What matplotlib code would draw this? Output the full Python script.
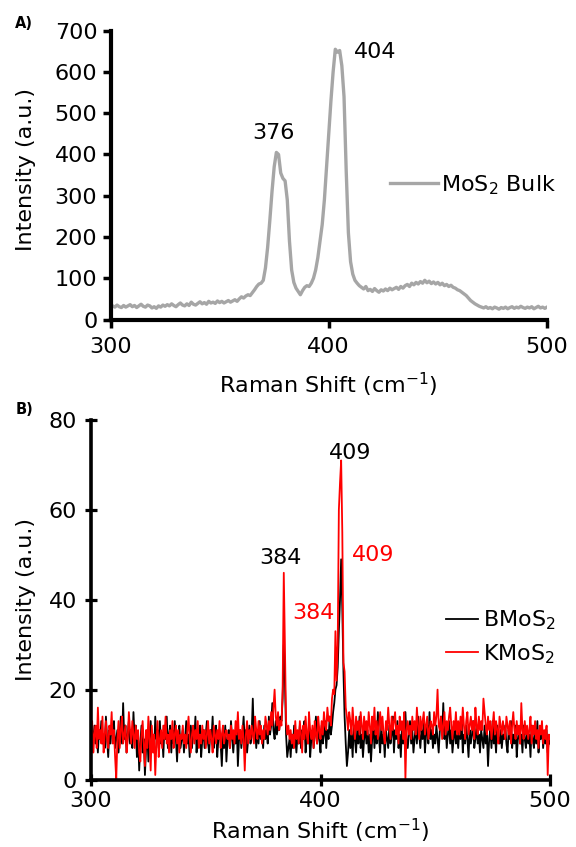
import numpy as np
import matplotlib
matplotlib.use("Agg")
import matplotlib.pyplot as plt

plt.rcParams['font.family'] = ['DejaVu Sans']
plt.rcParams['mathtext.default'] = 'regular'

# ---------------- Panel A data (MoS2 bulk), 1 cm-1 steps 300..500 ----------------
shift_a = np.arange(300, 501, 1)
bulk_intensity = (
    [28, 33, 30, 35, 31, 29, 34, 30, 33, 36] +          # 300-309
    [31, 34, 29, 33, 37, 32, 30, 35, 33, 28] +          # 310-319
    [31, 27, 33, 30, 35, 32, 36, 33, 38, 34] +          # 320-329
    [31, 36, 40, 35, 33, 38, 34, 42, 37, 35] +          # 330-339
    [39, 43, 38, 41, 37, 44, 40, 42, 39, 45] +          # 340-349
    [41, 44, 40, 43, 46, 42, 45, 48, 44, 50] +          # 350-359
    [55, 52, 57, 60, 58, 65, 72, 80, 86, 88] +          # 360-369
    [95, 125, 175, 240, 310, 370, 405, 400, 355, 342] +  # 370-379
    [336, 290, 190, 120, 90, 76, 68, 60, 70, 78] +      # 380-389
    [82, 80, 88, 100, 120, 150, 190, 230, 290, 370] +   # 390-399
    [450, 530, 600, 655, 648, 652, 615, 540, 360, 210] +  # 400-409
    [140, 110, 95, 88, 82, 78, 74, 80, 70, 73] +        # 410-419
    [68, 75, 70, 66, 72, 69, 74, 70, 76, 72] +          # 420-429
    [75, 78, 73, 80, 76, 82, 85, 80, 88, 84] +          # 430-439
    [90, 86, 92, 88, 95, 89, 93, 87, 91, 86] +          # 440-449
    [90, 84, 88, 82, 85, 80, 83, 78, 76, 72] +          # 450-459
    [70, 66, 62, 58, 52, 46, 42, 38, 35, 32] +          # 460-469
    [30, 28, 31, 27, 29, 26, 30, 28, 25, 29] +          # 470-479
    [27, 30, 26, 29, 31, 27, 30, 28, 32, 29] +          # 480-489
    [27, 30, 28, 31, 26, 29, 32, 28, 30, 27] +          # 490-499
    [30]                                                # 500
)

# ---------------- Panel B data, 0.5 cm-1 steps 300..500 ----------------
shift_b = np.arange(300, 500.5, 0.5)
bmos2 = (
    [10, 7, 9, 12, 8, 10, 6, 11, 9, 13, 8, 10, 7, 14, 9, 5, 11, 8, 12, 10] +
    [13, 7, 9, 11, 6, 10, 14, 8, 17, 9, 12, 6, 10, 13, 8, 11, 7, 15, 9, 12] +
    [5, 10, 2, 8, 12, 6, 9, 1, 7, 11, 4, 9, 13, 8, 10, 6, 14, 9, 11, 7] +
    [13, 8, 10, 5, 12, 9, 14, 7, 10, 12, 6, 11, 8, 13, 9, 4, 10, 12, 7, 9] +
    [11, 6, 9, 13, 8, 10, 5, 12, 7, 11, 9, 14, 6, 10, 8, 12, 5, 9, 11, 7] +
    [10, 13, 8, 6, 11, 9, 14, 7, 10, 12, 5, 9, 11, 8, 3, 10, 7, 12, 4, 9] +
    [11, 7, 13, 9, 6, 10, 8, 12, 3, 9, 11, 7, 10, 14, 8, 11, 6, 9, 12, 8] +
    [10, 18, 9, 12, 7, 11, 8, 13, 9, 10, 7, 12, 9, 11, 8, 14, 10, 12, 17, 11] +
    [9, 13, 10, 12, 11, 14, 13, 18, 30, 22, 10, 5, 7, 9, 5, 10, 7, 12, 9, 6] +
    [10, 8, 12, 7, 11, 9, 13, 6, 10, 8, 12, 5, 9, 11, 7, 10, 14, 8, 11, 9] +
    [6, 12, 8, 10, 13, 7, 11, 9, 14, 10, 12, 15, 17, 20, 21, 25, 33, 40, 49, 38] +
    [24, 14, 8, 3, 6, 11, 7, 10, 5, 12, 9, 6, 11, 8, 14, 7, 10, 5, 9, 12] +
    [8, 11, 6, 10, 4, 9, 13, 7, 11, 8, 15, 9, 6, 12, 8, 10, 5, 11, 9, 7] +
    [12, 8, 10, 14, 6, 11, 9, 13, 7, 10, 5, 12, 8, 11, 15, 9, 7, 10, 13, 8] +
    [11, 6, 9, 12, 8, 14, 10, 7, 11, 9, 13, 6, 10, 12, 8, 15, 9, 11, 7, 10] +
    [8, 12, 9, 6, 11, 14, 10, 17, 9, 12, 7, 10, 13, 8, 11, 6, 9, 12, 8, 10] +
    [7, 11, 9, 13, 6, 10, 8, 12, 9, 5, 11, 8, 10, 13, 7, 9, 12, 8, 10, 6] +
    [11, 9, 7, 12, 8, 10, 3, 9, 11, 7, 13, 8, 10, 6, 12, 9, 8, 11, 7, 10] +
    [9, 12, 8, 6, 11, 9, 13, 7, 10, 8, 12, 5, 9, 11, 8, 10, 6, 12, 9, 7] +
    [11, 8, 10, 5, 12, 9, 7, 11, 8, 13, 6, 10, 9, 12, 7, 10, 8, 11, 6, 9] +
    [8]
)
kmos2 = (
    [8, 13, 6, 10, 12, 7, 16, 9, 11, 8, 14, 6, 10, 13, 9, 7, 12, 10, 15, 8] +
    [11, 5, 0, 9, 13, 7, 11, 14, 8, 10, 12, 6, 9, 15, 11, 8, 13, 10, 7, 12] +
    [9, 11, 6, 4, 10, 13, 8, 3, 11, 7, 14, 9, 2, 12, 6, 10, 1, 8, 13, 5] +
    [9, 11, 7, 12, 9, 14, 8, 10, 6, 11, 9, 13, 7, 10, 12, 8, 11, 6, 10, 9] +
    [12, 8, 10, 7, 11, 14, 9, 6, 10, 12, 8, 11, 9, 13, 7, 10, 8, 12, 9, 11] +
    [7, 10, 13, 8, 11, 9, 6, 12, 10, 8, 11, 9, 13, 7, 10, 12, 8, 10, 11, 9] +
    [10, 7, 12, 9, 11, 8, 13, 10, 15, 9, 11, 8, 12, 9, 2, 10, 13, 8, 11, 9] +
    [12, 10, 8, 14, 11, 9, 13, 10, 12, 8, 11, 9, 14, 12, 10, 13, 11, 15, 12, 16] +
    [20, 14, 12, 15, 11, 13, 12, 20, 46, 30, 13, 10, 12, 9, 11, 8, 10, 7, 13, 9] +
    [11, 8, 13, 10, 6, 12, 9, 14, 10, 8, 15, 11, 9, 12, 7, 13, 10, 8, 14, 11] +
    [9, 13, 10, 15, 12, 11, 16, 13, 14, 12, 18, 20, 19, 33, 22, 30, 60, 66, 71, 55] +
    [26, 24, 16, 14, 11, 15, 13, 10, 16, 12, 9, 14, 11, 13, 10, 15, 12, 9, 14, 11] +
    [13, 10, 15, 12, 8, 14, 11, 16, 10, 13, 9, 12, 15, 11, 14, 10, 8, 13, 11, 16] +
    [12, 9, 14, 11, 13, 15, 10, 12, 8, 14, 11, 13, 9, 15, 0, 11, 13, 10, 12, 9] +
    [14, 11, 13, 10, 16, 12, 9, 14, 11, 13, 15, 10, 12, 14, 9, 11, 13, 12, 10, 15] +
    [12, 14, 20, 12, 11, 14, 9, 12, 15, 10, 13, 11, 14, 16, 12, 9, 13, 11, 15, 10] +
    [13, 10, 14, 11, 16, 12, 9, 13, 15, 10, 12, 14, 11, 13, 9, 16, 12, 10, 14, 11] +
    [13, 11, 18, 15, 12, 10, 14, 11, 13, 9, 12, 15, 10, 13, 11, 8, 14, 12, 10, 13] +
    [11, 9, 14, 12, 10, 13, 8, 12, 15, 11, 9, 13, 10, 12, 8, 17, 11, 9, 13, 10] +
    [12, 9, 11, 14, 8, 12, 10, 13, 9, 11, 7, 12, 10, 13, 8, 11, 9, 12, 1, 10] +
    [9]
)

peak_labels_a = [("376", 374.5, 453), ("404", 421.5, 649)]
peak_labels_b = [("384", 382.6, 49.2, "black"), ("409", 412.9, 72.6, "black"),
                 ("384", 396.9, 37.0, "red"), ("409", 423.0, 50.0, "red")]

FS = 16
W, H = 576, 847
fig = plt.figure(figsize=(W / 100, H / 100), dpi=100)

# ---------------- Panel A ----------------
axA = fig.add_axes([110.5 / W, 1 - 319.5 / H, (547 - 110.5) / W, (319.5 - 30.7) / H])
axA.plot(shift_a, bulk_intensity, color="#a6a6a6", lw=2.4, label="MoS$_2$ Bulk")
axA.set_xlim(300, 500)
axA.set_ylim(0, 700)
axA.set_xticks([300, 400, 500])
axA.set_yticks(np.arange(0, 701, 100))
for s in ["top", "right"]:
    axA.spines[s].set_visible(False)
for s in ["left", "bottom"]:
    axA.spines[s].set_linewidth(3)
axA.tick_params(axis="both", direction="out", length=5.5, width=2.5, labelsize=FS)
axA.tick_params(axis="y", pad=4)
axA.tick_params(axis="x", pad=7)
axA.set_ylabel("Intensity (a.u.)", fontsize=FS)
axA.yaxis.set_label_coords((36 - 110.5) / 436.5, 0.52)
axA.set_xlabel("Raman Shift (cm$^{-1}$)", fontsize=FS)
axA.xaxis.set_label_coords(0.5, -(371 - 319.5) / 288.8)
for t, x, y in peak_labels_a:
    axA.text(x, y, t, fontsize=FS, ha="center", va="center")
axA.legend(loc="center left", bbox_to_anchor=(390 / W, 1 - 185 / H),
           bbox_transform=fig.transFigure, frameon=False, fontsize=FS,
           borderpad=0, borderaxespad=0, handlelength=2.15, handletextpad=0.15)
fig.text(15 / W, 1 - 24 / H, "A)", fontsize=10.5, fontweight="bold", va="center")

# ---------------- Panel B ----------------
axB = fig.add_axes([91 / W, 1 - 779.5 / H, (550 - 91) / W, (779.5 - 420) / H])
axB.plot(shift_b, bmos2, color="black", lw=1.3, label="BMoS$_2$")
axB.plot(shift_b, kmos2, color="#ff0000", lw=1.3, label="KMoS$_2$")
axB.set_xlim(300, 500)
axB.set_ylim(0, 80)
axB.set_xticks([300, 400, 500])
axB.set_yticks(np.arange(0, 81, 20))
for s in ["top", "right"]:
    axB.spines[s].set_visible(False)
for s in ["left", "bottom"]:
    axB.spines[s].set_linewidth(2.6)
axB.tick_params(axis="both", direction="inout", length=8, width=2.3, labelsize=FS)
axB.tick_params(axis="y", pad=6)
axB.tick_params(axis="x", pad=4)
axB.set_ylabel("Intensity (a.u.)", fontsize=FS)
axB.yaxis.set_label_coords((36 - 91) / 459, 0.5)
axB.set_xlabel("Raman Shift (cm$^{-1}$)", fontsize=FS)
axB.xaxis.set_label_coords(0.5, -(817 - 779.5) / 359.5)
for t, x, y, c in peak_labels_b:
    axB.text(x, y, t, fontsize=FS, ha="center", va="center", color=c)
axB.legend(loc="center left", bbox_to_anchor=(445.5 / W, 1 - 637 / H),
           bbox_transform=fig.transFigure, frameon=False, fontsize=FS,
           borderpad=0, borderaxespad=0, handlelength=1.45, handletextpad=0.25,
           labelspacing=0.45)
fig.text(16 / W, 1 - 409 / H, "B)", fontsize=10.5, fontweight="bold", va="center")

fig.savefig("out.png", dpi=100)
